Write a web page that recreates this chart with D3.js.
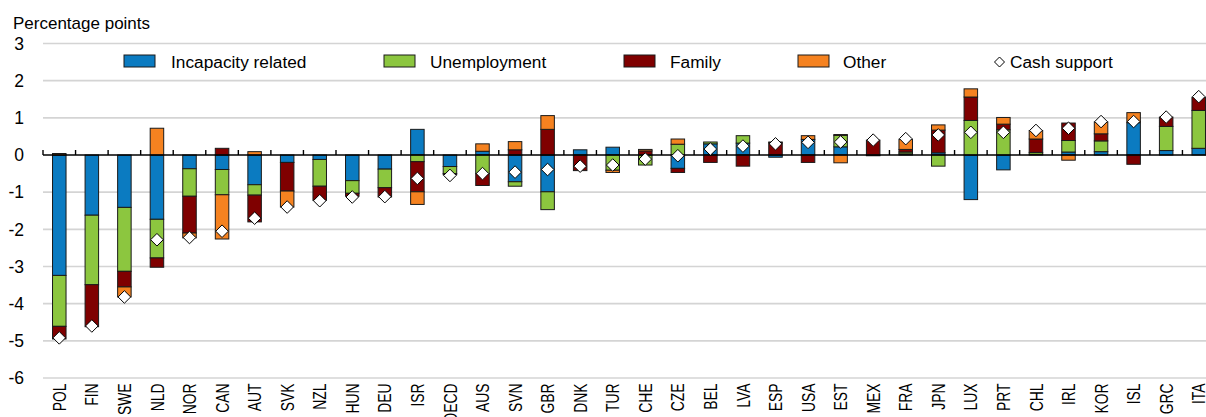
<!DOCTYPE html>
<html>
<head>
<meta charset="utf-8">
<script src="https://cdn.jsdelivr.net/npm/d3@7"></script>
<style>
  html, body { margin: 0; padding: 0; background: #fff; }
  svg { display: block; font-family: "Liberation Sans", Arial, sans-serif; }
</style>
</head>
<body>
<div id="chart"></div>
<script>
const width = 1206, height = 417;

// data
const countries = ["POL","FIN","SWE","NLD","NOR","CAN","AUT","SVK","NZL","HUN","DEU","ISR","OECD","AUS","SVN","GBR","DNK","TUR","CHE","CZE","BEL","LVA","ESP","USA","EST","MEX","FRA","JPN","LUX","PRT","CHL","IRL","KOR","ISL","GRC","ITA"];
const incapacity   = [-3.24,-1.62,-1.41,-1.73,-0.37,-0.39,-0.80,-0.20,-0.12,-0.69,-0.38, 0.69,-0.31, 0.10,-0.72,-0.99, 0.14, 0.21, 0.00,-0.36, 0.30, 0.32,-0.06, 0.42, 0.22,-0.02, 0.03, 0.06,-1.20,-0.40, 0.02, 0.08, 0.09, 0.87, 0.12, 0.18];
const unemployment = [-1.37,-1.87,-1.72,-1.04,-0.74,-0.68,-0.28, 0.00,-0.72,-0.34,-0.50,-0.18,-0.19,-0.50,-0.12,-0.48, 0.00,-0.41,-0.27, 0.29, 0.05, 0.20, 0.00, 0.00, 0.31, 0.00, 0.05,-0.30, 0.93, 0.68, 0.05, 0.31, 0.29, 0.00, 0.65, 1.02];
const family       = [-0.34,-1.13,-0.42,-0.25,-0.99, 0.18,-0.72,-0.77,-0.38,-0.08,-0.25,-0.81,-0.03,-0.32, 0.14, 0.69,-0.42, 0.00, 0.11,-0.11,-0.20,-0.30, 0.33,-0.20, 0.02, 0.40, 0.07, 0.61, 0.63, 0.15, 0.36, 0.47, 0.19,-0.25, 0.25, 0.35];
const other        = [ 0.04, 0.00,-0.27, 0.72,-0.13,-1.19, 0.09,-0.43, 0.00, 0.00, 0.00,-0.34, 0.00, 0.20, 0.22, 0.37, 0.00,-0.06, 0.04, 0.14, 0.00, 0.00, 0.02, 0.10,-0.21, 0.00, 0.27, 0.14, 0.22, 0.18, 0.23,-0.14, 0.32, 0.27, 0.00, 0.00];
const cashSupport  = [-4.92,-4.60,-3.82,-2.28,-2.22,-2.05,-1.70,-1.40,-1.23,-1.13,-1.12,-0.63,-0.55,-0.50,-0.46,-0.39,-0.30,-0.27,-0.11,-0.02, 0.16, 0.24, 0.30, 0.34, 0.35, 0.40, 0.44, 0.54, 0.61, 0.61, 0.66, 0.72, 0.90, 0.90, 1.02, 1.57];
const yTicks = [3, 2, 1, 0, -1, -2, -3, -4, -5, -6];

const seriesKeys = ["Incapacity related", "Unemployment", "Family", "Other"];
const seriesColors = ["#0b7bc1", "#8cc63f", "#7f0000", "#f58220"];

const rows = countries.map((c, i) => ({
  country: c,
  "Incapacity related": incapacity[i],
  "Unemployment": unemployment[i],
  "Family": family[i],
  "Other": other[i],
  cash: cashSupport[i]
}));

const svg = d3.select("#chart").append("svg")
  .attr("width", width)
  .attr("height", height);

const x = d3.scaleBand()
  .domain(countries)
  .range([43, 1215])
  .paddingInner(0.585)
  .paddingOuter(0.2925);

const y = d3.scaleLinear()
  .domain([-6, 3])
  .range([378, 43.5]);

// gridlines
svg.append("g")
  .selectAll("line")
  .data(yTicks.filter(d => d !== 0))
  .join("line")
  .attr("x1", 43).attr("x2", width)
  .attr("y1", d => y(d)).attr("y2", d => y(d))
  .attr("stroke", "#d4d4d4")
  .attr("stroke-width", 1.6);

// y axis labels
svg.append("g")
  .selectAll("text")
  .data(yTicks)
  .join("text")
  .attr("x", 24)
  .attr("y", d => y(d))
  .attr("dy", "0.36em")
  .attr("text-anchor", "end")
  .attr("font-size", 17.5)
  .attr("fill", "#000")
  .text(d => d);

svg.append("text")
  .attr("x", 13)
  .attr("y", 29)
  .attr("font-size", 17)
  .text("Percentage points");

// stacked bars
const stack = d3.stack()
  .keys(seriesKeys)
  .offset(d3.stackOffsetDiverging);

const layers = stack(rows);

svg.append("g")
  .selectAll("g")
  .data(layers)
  .join("g")
  .attr("fill", (d, i) => seriesColors[i])
  .selectAll("rect")
  .data(d => d.filter(s => s[1] - s[0] !== 0))
  .join("rect")
  .attr("x", d => x(d.data.country))
  .attr("width", x.bandwidth())
  .attr("y", d => y(Math.max(d[0], d[1])))
  .attr("height", d => Math.abs(y(d[0]) - y(d[1])))
  .attr("stroke", "#1a1a1a")
  .attr("stroke-width", 1);

// zero line with ticks at category boundaries
const zeroY = y(0);
svg.append("line")
  .attr("x1", 43).attr("x2", width)
  .attr("y1", zeroY).attr("y2", zeroY)
  .attr("stroke", "#000")
  .attr("stroke-width", 1.4);

svg.append("g")
  .selectAll("line")
  .data(d3.range(countries.length + 1))
  .join("line")
  .attr("x1", i => 43 + i * x.step())
  .attr("x2", i => 43 + i * x.step())
  .attr("y1", zeroY)
  .attr("y2", zeroY - 5)
  .attr("stroke", "#000")
  .attr("stroke-width", 1.4);

// cash support diamonds
const diamond = (cx, cy, r) => `M${cx},${cy - r}L${cx + r},${cy}L${cx},${cy + r}L${cx - r},${cy}Z`;

svg.append("g")
  .selectAll("path")
  .data(rows)
  .join("path")
  .attr("d", d => diamond(x(d.country) + x.bandwidth() / 2, y(d.cash), 6.3))
  .attr("fill", "#fff")
  .attr("stroke", "#000")
  .attr("stroke-width", 1);

// x labels (condensed, rotated)
svg.append("g")
  .selectAll("text")
  .data(countries)
  .join("text")
  .attr("transform", d => `translate(${x(d) + x.bandwidth() / 2},383.5) rotate(-90) scale(0.75,1)`)
  .attr("dy", "0.36em")
  .attr("text-anchor", "end")
  .attr("font-size", 18.5)
  .text(d => d);

// legend
const legendItems = [
  { label: "Incapacity related", color: seriesColors[0], sx: 124, tx: 171 },
  { label: "Unemployment", color: seriesColors[1], sx: 384, tx: 430 },
  { label: "Family", color: seriesColors[2], sx: 624, tx: 670 },
  { label: "Other", color: seriesColors[3], sx: 798, tx: 843 }
];

const legend = svg.append("g");
legend.selectAll("rect")
  .data(legendItems)
  .join("rect")
  .attr("x", d => d.sx)
  .attr("y", 55)
  .attr("width", 31)
  .attr("height", 12)
  .attr("fill", d => d.color)
  .attr("stroke", "#1a1a1a")
  .attr("stroke-width", 1);

legend.selectAll("text")
  .data(legendItems)
  .join("text")
  .attr("x", d => d.tx)
  .attr("y", 61.5)
  .attr("dy", "0.36em")
  .attr("font-size", 17.3)
  .text(d => d.label);

legend.append("path")
  .attr("d", diamond(999.5, 62, 5))
  .attr("fill", "#fff")
  .attr("stroke", "#000")
  .attr("stroke-width", 1);

legend.append("text")
  .attr("x", 1010)
  .attr("y", 61.5)
  .attr("dy", "0.36em")
  .attr("font-size", 17.3)
  .text("Cash support");
</script>
</body>
</html>
